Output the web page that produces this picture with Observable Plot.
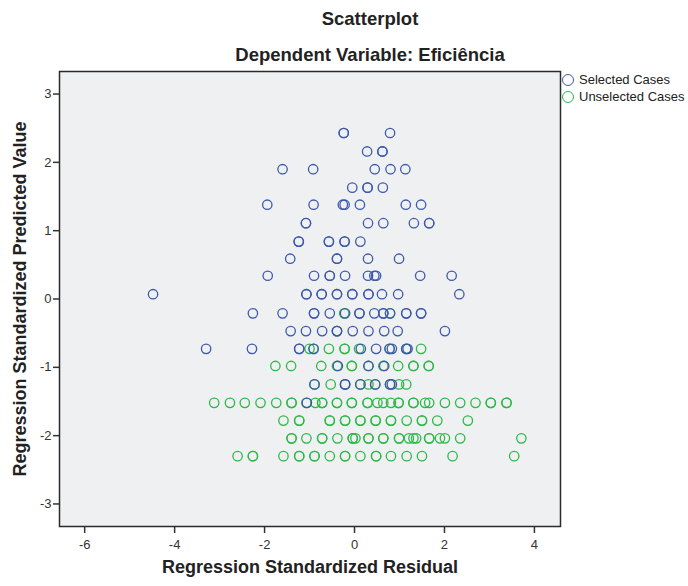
<!DOCTYPE html>
<html>
<head>
<meta charset="utf-8">
<script src="https://cdn.jsdelivr.net/npm/d3@7"></script>
<script src="https://cdn.jsdelivr.net/npm/@observablehq/plot@0.6"></script>
<style>
  body { margin: 0; background: #fff; }
  #wrap { position: relative; width: 688px; height: 586px; font-family: "Liberation Sans", Arial, sans-serif; color: #222; }
  #head { position: relative; height: 64px; }
  .ttl { position: absolute; left: 370px; transform: translateX(-50%); white-space: nowrap; font-weight: bold; font-size: 18.5px; line-height: 22px; }
  #legend { position: absolute; left: 562px; top: 71px; font-size: 13px; line-height: 17px; }
  #legend div { display: flex; align-items: center; height: 17px; }
  #legend i { display: inline-block; width: 10px; height: 10px; border-radius: 50%; border: 1.4px solid; margin-right: 5px; }
</style>
</head>
<body>
<div id="wrap">
  <div id="head">
    <div class="ttl" style="top:8px">Scatterplot</div>
    <div class="ttl" style="top:44px">Dependent Variable: Eficiência</div>
  </div>
  <div id="chart"></div>
  <div id="legend"></div>
</div>
<script>
// Regression diagnostics: standardized predicted value (rows) vs standardized residual
const predictedLevels = [2.43, 2.16, 1.90, 1.63, 1.38, 1.11, 0.84, 0.59, 0.34, 0.07,
  -0.21, -0.47, -0.73, -0.98, -1.25, -1.52, -1.78, -2.04, -2.30];

// residuals of selected cases, one list per predicted level
const selectedResiduals = [
  [-0.24, -0.24, 0.79],
  [0.28, 0.62, 0.62],
  [-1.60, -0.92, 0.45, 0.80, 1.13],
  [-0.05, 0.29, 0.29, 0.63],
  [-1.94, -0.91, -0.26, -0.22, 0.12, 1.14, 1.48],
  [-1.08, -1.08, 0.30, 0.64, 1.32, 1.66, 1.66],
  [-1.24, -1.24, -0.57, -0.57, -0.22, -0.22, 0.13],
  [-1.43, -0.39, -0.39, 0.30, 0.99],
  [-1.93, -0.90, -0.55, -0.55, -0.21, 0.30, 0.44, 0.48, 1.46, 2.16],
  [-4.48, -1.07, -1.07, -0.73, -0.73, -0.39, -0.39, -0.05, -0.05, 0.31, 0.31, 0.61, 0.97, 2.33],
  [-2.26, -1.60, -0.90, -0.90, -0.55, -0.21, 0.11, 0.11, 0.44, 0.64, 0.64, 0.79, 1.15, 1.15, 1.48, 1.48],
  [-1.42, -1.08, -0.72, -0.39, -0.39, -0.04, 0.31, 0.66, 0.96, 2.01],
  [-3.30, -2.28, -1.23, -1.23, -0.91, 0.14, 0.48, 0.78, 0.83, 1.15, 1.18],
  [-0.37, 0.31, 0.66],
  [-0.89, -0.21, -0.21, 0.13, 0.46, 0.79, 0.83],
  [-1.06],
  [],
  [],
  []
];

// residuals of unselected cases, one list per predicted level
const unselectedResiduals = [
  [], [], [], [], [], [], [], [], [], [],
  [-0.23, 0.79],
  [-0.39],
  [-1.00, -0.91, -0.57, -0.22, -0.22, 0.10, 0.78, 1.15, 1.48],
  [-1.76, -1.41, -0.74, -0.39, -0.06, -0.06, 0.31, 0.64, 0.97, 1.31, 1.31, 1.65, 1.65],
  [-0.89, -0.53, -0.21, 0.13, 0.31, 0.46, 0.79, 0.99, 1.15],
  [-3.12, -2.77, -2.44, -2.09, -1.74, -1.40, -1.40, -1.07, -0.87, -0.72, -0.72, -0.39, -0.39,
   -0.06, -0.06, 0.29, 0.29, 0.51, 0.64, 0.81, 0.98, 0.98, 1.31, 1.31, 1.57, 1.66, 2.01, 2.35,
   2.69, 3.03, 3.03, 3.38, 3.38],
  [-1.58, -1.23, -1.23, -0.55, -0.55, -0.21, -0.21, 0.13, 0.13, 0.47, 0.47, 0.81, 0.81, 1.16,
   1.50, 1.50, 1.84, 2.52],
  [-1.40, -1.40, -1.07, -0.72, -0.72, -0.38, -0.04, -0.04, 0.02, 0.31, 0.31, 0.64, 0.64, 0.99,
   0.99, 1.21, 1.31, 1.37, 1.66, 1.66, 1.90, 2.01, 2.35, 3.71],
  [-2.60, -2.26, -2.26, -1.58, -1.23, -1.23, -0.89, -0.89, -0.55, -0.21, -0.21, 0.13, 0.48, 0.48,
   0.81, 1.16, 1.50, 2.18, 3.55]
];

const groups = ["Selected Cases", "Unselected Cases"];
const groupColors = ["#3e58ac", "#2eb848"];
const xTicks = [-6, -4, -2, 0, 2, 4];
const yTicks = [-3, -2, -1, 0, 1, 2, 3];

function flatten(lists, group) {
  return lists.flatMap((xs, i) => xs.map(x => ({x, y: predictedLevels[i], group})));
}
const unselected = flatten(unselectedResiduals, groups[1]);
const selected = flatten(selectedResiduals, groups[0]);

const dotStyle = {x: "x", y: "y", stroke: "group", r: 4.7, strokeWidth: 1.3, fill: "none"};

const chart = Plot.plot({
  width: 688,
  height: 522,
  marginTop: 7,
  marginLeft: 59,
  marginRight: 128,
  marginBottom: 60,
  style: {fontFamily: "'Liberation Sans', Arial, sans-serif", fontSize: "13px", color: "#333", background: "#fff", overflow: "visible"},
  x: {domain: [-6.56, 4.58]},
  y: {domain: [-3.33, 3.33]},
  color: {domain: groups, range: groupColors},
  marks: [
    Plot.frame({fill: "#eff0f2", stroke: null}),
    Plot.axisX({ticks: xTicks, tickSize: 7, tickPadding: 6, tickFormat: d => String(d), label: null, stroke: "#333", strokeWidth: 1.5}),
    Plot.axisY({ticks: yTicks, tickSize: 6, tickPadding: 2, tickFormat: d => String(d), label: null, stroke: "#333", strokeWidth: 1.5}),
    Plot.dot(unselected, dotStyle),
    Plot.dot(selected, dotStyle),
    Plot.frame({stroke: "#2b2b2b", strokeWidth: 1.5}),
    Plot.text(["Regression Standardized Residual"], {text: d => d, frameAnchor: "bottom", dy: 46, fontSize: 18, fontWeight: "bold", fill: "#222"}),
    Plot.text(["Regression Standardized Predicted Value"], {text: d => d, frameAnchor: "left", textAnchor: "middle", dx: -39, rotate: -90, fontSize: 18, fontWeight: "bold", fill: "#222"})
  ]
});
document.getElementById("chart").append(chart);

// legend for the two case groups
const legend = document.getElementById("legend");
groups.forEach((g, i) => {
  const row = document.createElement("div");
  const sw = document.createElement("i");
  sw.style.borderColor = groupColors[i];
  row.append(sw, document.createTextNode(g));
  legend.append(row);
});
</script>
</body>
</html>
